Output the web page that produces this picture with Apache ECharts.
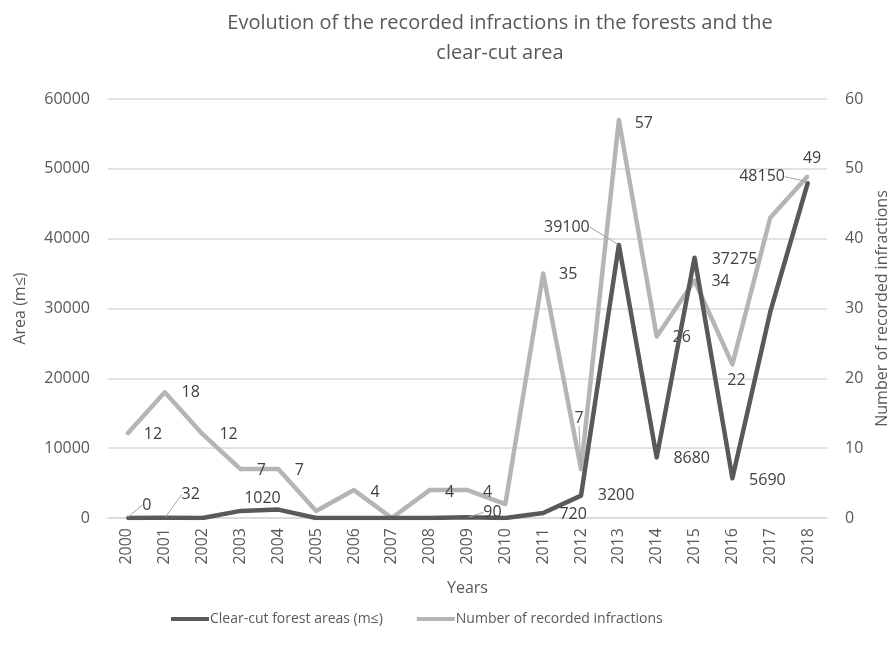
<!DOCTYPE html>
<html>
<head>
<meta charset="utf-8">
<script src="https://cdn.jsdelivr.net/npm/echarts@6/dist/echarts.min.js"></script>
<style>html,body{margin:0;padding:0;background:#fff}#c{width:891px;height:650px}</style>
</head>
<body>
<div id="c"></div>
<script>
const years = ['2000','2001','2002','2003','2004','2005','2006','2007','2008','2009','2010','2011','2012','2013','2014','2015','2016','2017','2018'];
const areaValues = [0, 32, 0, 1020, 1200, 0, 0, 0, 0, 90, 0, 720, 3200, 39100, 8680, 37275, 5690, 29500, 48150];
const infractionValues = [12, 18, 12, 7, 7, 1, 4, 0, 4, 4, 2, 35, 7, 57, 26, 34, 22, 43, 49];
const areaTicks = [0, 10000, 20000, 30000, 40000, 50000, 60000];
const infractionTicks = [0, 10, 20, 30, 40, 50, 60];

// label placement (offset of label centre from point, px); missing = no label
const areaLabelOffsets = {0:[20,-13],1:[26,-23],3:[22,-12],9:[25,-5],11:[30,1],12:[35,0],13:[-52,-18],14:[35,1],15:[40,2],16:[35,2],18:[-46,-5]};
const areaLeaders = [0,1,9,13,18];
const infLabelOffsets = {0:[26,0],1:[26,0],2:[26,0],3:[21,1],4:[21,1],6:[21,2],8:[20,2],9:[20,2],11:[25,1],12:[-2,-51],13:[25,3],14:[25,1],15:[26,1],16:[4,16],18:[4,-17]};
const infLeaders = [12];

const FONT = 'Open Sans';
const DARK = '#595959';
const LIGHT = '#b5b5b5';

function buildData(vals, offsets, leaders) {
  return vals.map((v, i) => ({
    value: v,
    label: { show: offsets[i] != null },
    labelLine: { show: leaders.indexOf(i) >= 0 }
  }));
}
const offsetsBySeries = [areaLabelOffsets, infLabelOffsets];

const chart = echarts.init(document.getElementById('c'), null, {renderer: 'canvas'});
chart.setOption({
  animation: false,
  backgroundColor: '#fff',
  textStyle: { fontFamily: FONT },
  title: {
    text: 'Evolution of the recorded infractions in the forests and the\nclear-cut area',
    left: 495, top: 3, textAlign: 'center',
    textStyle: { fontFamily: FONT, fontSize: 20, fontWeight: 'normal', color: '#595959', lineHeight: 30 }
  },
  legend: {
    left: 166, top: 607,
    itemWidth: 38, itemHeight: 4, itemGap: 34,
    icon: 'rect',
    textStyle: { fontFamily: FONT, fontSize: 14, color: '#595959', padding: [0,0,0,-4] },
    data: ['Clear-cut forest areas (m≤)', 'Number of recorded infractions']
  },
  grid: { left: 108, right: 64, top: 99, bottom: 132, outerBoundsMode: 'none', containLabel: false },
  xAxis: {
    type: 'category', data: years, boundaryGap: true,
    name: 'Years', nameLocation: 'middle', nameGap: 62,
    nameTextStyle: { fontFamily: FONT, fontSize: 16, color: '#595959' },
    axisLine: { lineStyle: { color: '#d9d9d9', width: 1.5 } },
    axisTick: { show: false },
    axisLabel: { rotate: 90, margin: 10, fontFamily: FONT, fontSize: 16, color: '#595959' }
  },
  yAxis: [{
    type: 'value', min: areaTicks[0], max: areaTicks[areaTicks.length-1], interval: areaTicks[1]-areaTicks[0],
    name: 'Area (m≤)', nameLocation: 'middle', nameGap: 80, nameRotate: 90,
    nameTextStyle: { fontFamily: FONT, fontSize: 16, color: '#595959' },
    axisLine: { show: false }, axisTick: { show: false },
    axisLabel: { margin: 18, fontFamily: FONT, fontSize: 16, color: '#595959', formatter: v => String(v) },
    splitLine: { lineStyle: { color: '#d9d9d9', width: 1.5 } }
  }, {
    type: 'value', min: infractionTicks[0], max: infractionTicks[infractionTicks.length-1], interval: infractionTicks[1]-infractionTicks[0],
    name: 'Number of recorded infractions', nameLocation: 'middle', nameGap: 45, nameRotate: 90,
    nameTextStyle: { fontFamily: FONT, fontSize: 16, color: '#595959' },
    axisLine: { show: false }, axisTick: { show: false },
    axisLabel: { margin: 18, fontFamily: FONT, fontSize: 16, color: '#595959', formatter: v => String(v) },
    splitLine: { show: false }
  }],
  series: [{
    name: 'Clear-cut forest areas (m≤)', type: 'line', yAxisIndex: 0,
    data: buildData(areaValues, areaLabelOffsets, areaLeaders),
    symbol: 'circle', symbolSize: 2, showSymbol: true,
    lineStyle: { color: DARK, width: 4.5, join: 'round' },
    itemStyle: { color: DARK },
    label: { show: true, position: 'inside', fontFamily: FONT, fontSize: 16, color: '#404040' },
    labelLine: { show: false, lineStyle: { color: '#a6a6a6', width: 1 } },
    z: 3
  }, {
    name: 'Number of recorded infractions', type: 'line', yAxisIndex: 1,
    data: buildData(infractionValues, infLabelOffsets, infLeaders),
    symbol: 'circle', symbolSize: 2, showSymbol: true,
    lineStyle: { color: LIGHT, width: 4.5, join: 'round' },
    itemStyle: { color: LIGHT },
    label: { show: true, position: 'inside', fontFamily: FONT, fontSize: 16, color: '#404040' },
    labelLine: { show: false, lineStyle: { color: '#a6a6a6', width: 1 } },
    z: 2
  }],
  labelLayout: function (p) {
    const o = offsetsBySeries[p.seriesIndex][p.dataIndex];
    if (!o) return {};
    const cx = p.rect.x + p.rect.width / 2, cy = p.rect.y + p.rect.height / 2;
    return { x: cx + o[0], y: cy + o[1], align: 'center', verticalAlign: 'middle' };
  }
});
</script>
</body>
</html>
